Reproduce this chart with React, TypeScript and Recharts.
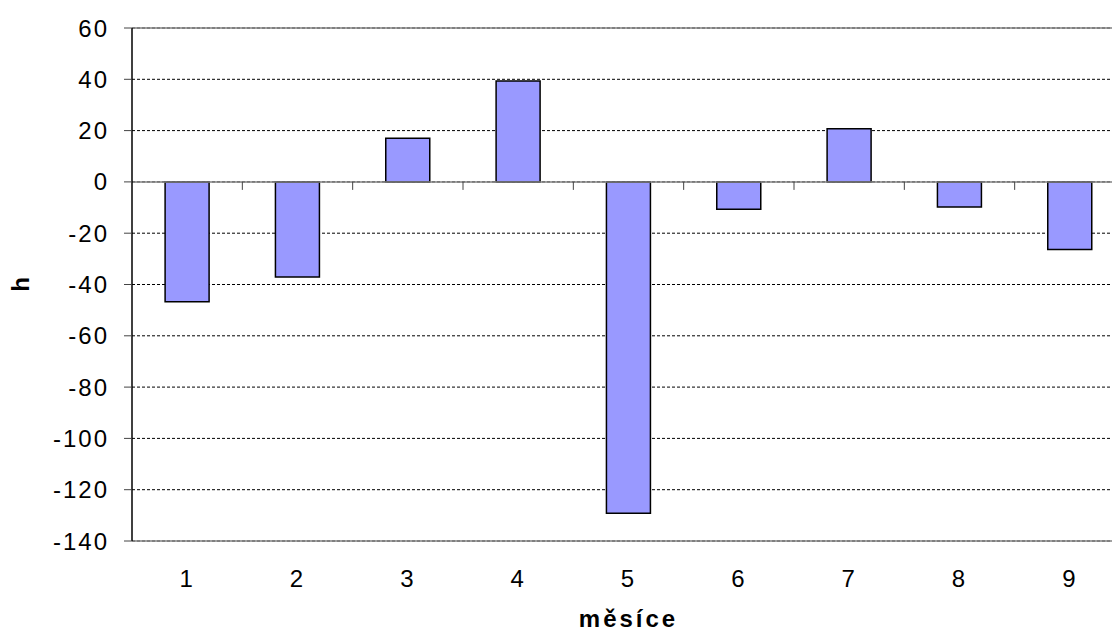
import { BarChart, Bar, XAxis, YAxis, CartesianGrid, ReferenceLine, Label } from 'recharts';

// months on the category axis and the monthly h deviations
const MONTHS = ['1', '2', '3', '4', '5', '6', '7', '8', '9'];
const H_VALUES = [-46.7, -37.1, 17.0, 39.3, -129.2, -10.7, 20.7, -9.8, -26.4];
const Y_TICKS = [-140, -120, -100, -80, -60, -40, -20, 0, 20, 40, 60];

const data = MONTHS.map((month, i) => ({ month, h: H_VALUES[i] }));

const FONT = '"Liberation Sans", Arial, sans-serif';
const BORDER = '#808080';

// zero line with short tick marks between the month categories
function ZeroLine(props: any) {
  const { x1, x2, y1 } = props;
  const step = (x2 - x1) / MONTHS.length;
  const marks = MONTHS.map((_, i) => x1 + step * (i + 1));
  return (
    <g>
      <line x1={x1} x2={x2} y1={y1} y2={y1} stroke={BORDER} strokeWidth={1.5} />
      {marks.map((x) => (
        <line key={x} x1={x} x2={x} y1={y1} y2={y1 + 8} stroke="#444" strokeWidth={1} />
      ))}
    </g>
  );
}

function YTitle(props: any) {
  const vb = props.viewBox || {};
  const x = vb.x - 3;
  const y = vb.y + vb.height / 2;
  return (
    <text x={x} y={y} transform={`rotate(-90, ${x}, ${y})`} textAnchor="middle" fontSize={24} fontWeight="bold" fill="#000">
      h
    </text>
  );
}

export default function App() {
  return (
    <div style={{ position: 'fixed', left: 0, top: 0, width: 1112, height: 631, overflow: 'hidden', background: '#fff', fontFamily: FONT }}>
      <BarChart
        width={1140}
        height={631}
        data={data}
        margin={{ top: 28, right: 15, bottom: 0, left: 32 }}
        barCategoryGap="30%"
      >
        <CartesianGrid vertical={false} stroke="#000" strokeDasharray="3 2" strokeWidth={1} />
        <XAxis
          dataKey="month"
          height={90}
          axisLine={false}
          tickLine={false}
          tickSize={0}
          tickMargin={29}
          tick={{ fill: '#000', fontSize: 24, letterSpacing: 2 }}
        >
          <Label value="měsíce" position="insideBottom" offset={4} fill="#000" fontSize={24} fontWeight="bold" letterSpacing={3} />
        </XAxis>
        <YAxis
          width={100}
          domain={[-140, 60]}
          ticks={Y_TICKS}
          interval={0}
          allowDataOverflow
          axisLine={{ stroke: '#000', strokeWidth: 1.5 }}
          tickLine={{ stroke: '#444' }}
          tickSize={8}
          tickMargin={15}
          tick={{ fill: '#000', fontSize: 24, letterSpacing: 2 }}
        >
          <Label content={<YTitle />} />
        </YAxis>
        <ReferenceLine y={60} stroke={BORDER} strokeWidth={1.5} />
        <ReferenceLine y={-140} stroke={BORDER} strokeWidth={1.5} />
        <Bar dataKey="h" fill="#9999FF" stroke="#000" strokeWidth={1.5} isAnimationActive={false} />
        <ReferenceLine y={0} shape={<ZeroLine />} />
      </BarChart>
    </div>
  );
}
